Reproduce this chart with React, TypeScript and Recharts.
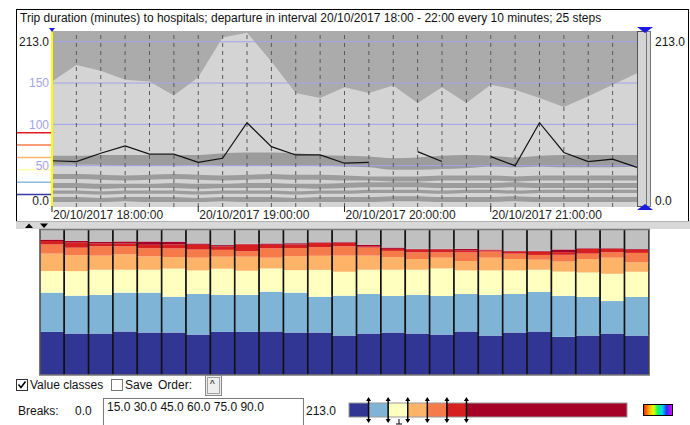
import React from 'react';
import {
  Area,
  Bar,
  BarChart,
  CartesianGrid,
  ComposedChart,
  Line,
  ReferenceLine,
  XAxis,
  YAxis,
} from 'recharts';

const FONT = '"Liberation Sans", Arial, sans-serif';

// departure steps, 20/10/2017 18:00 - 22:00 every 10 minutes
const steps = [
  '18:00', '18:10', '18:20', '18:30', '18:40', '18:50', '19:00', '19:10', '19:20',
  '19:30', '19:40', '19:50', '20:00', '20:10', '20:20', '20:30', '20:40', '20:50',
  '21:00', '21:10', '21:20', '21:30', '21:40', '21:50', '22:00',
];
const hourTicks = [0, 6, 12, 18];
const hourLabels = ['20/10/2017 18:00:00', '20/10/2017 19:00:00', '20/10/2017 20:00:00', '20/10/2017 21:00:00'];
const yTicks = [0, 50, 100, 150, 213];
const gridValues = [50, 100, 150, 200];

// trip duration per step (minutes)
const maxTrip = [152, 172, 165, 154, 152, 135, 157, 205, 211, 176, 138, 132, 145, 138, 147, 126, 145, 126, 148, 142, 132, 121, 134, 148, 162];
const medianTrip = [56, 55, 65, 74, 64, 64, 54, 59, 102, 73, 63, 63, 53, 54, null, 67, 55, null, 61, 50, 102, 66, 55, 58, 48];

// darker percentile bands (low / high)
const bandAHi = [62, 62, 63, 63, 63, 63, 63, 65, 66, 66, 65, 63, 62, 61, 59, 60, 62, 63, 62, 60, 62, 63, 63, 63, 63];
const bandALo = [51, 51, 51, 50, 50, 50, 51, 50, 50, 50, 50, 50, 49, 48, 45, 45, 46, 47, 49, 48, 49, 48, 48, 48, 49];
const bandBHi = [40, 40, 39, 38, 39, 40, 39, 38, 39, 40, 39, 39, 38, 37, 37, 37, 38, 38, 38, 37, 38, 38, 38, 38, 38];
const bandBLo = [34, 34, 33, 32, 33, 34, 33, 32, 33, 34, 33, 33, 32, 32, 31, 31, 32, 32, 32, 31, 32, 32, 32, 32, 32];
const bandCHi = [29, 29, 28, 28, 28, 29, 28, 28, 29, 29, 28, 28, 29, 30, 30, 30, 29, 29, 29, 30, 29, 29, 29, 29, 29];
const bandCLo = [23, 23, 22, 23, 23, 23, 22, 23, 23, 23, 23, 22, 23, 24, 24, 24, 23, 23, 23, 24, 23, 23, 23, 23, 23];
const bandDHi = [20, 20, 19, 20, 20, 20, 19, 20, 20, 20, 19, 20, 20, 21, 21, 21, 20, 21, 21, 20, 21, 21, 21, 21, 21];
const bandDLo = [16, 16, 15, 16, 16, 16, 15, 16, 16, 16, 15, 16, 16, 17, 17, 17, 16, 17, 17, 16, 17, 17, 17, 17, 17];
const bandEHi = [12, 12, 11, 12, 12, 12, 11, 12, 12, 12, 11, 12, 12, 12, 13, 13, 12, 12, 12, 13, 12, 12, 12, 12, 12];
const bandELo = [6, 6, 6, 7, 6, 6, 6, 7, 6, 6, 6, 6, 6, 6, 7, 7, 6, 6, 6, 7, 6, 6, 6, 6, 6];

// value classes
const breaks = [0, 15, 30, 45, 60, 75, 90, 213];
const classColors = ['#313695', '#7fb4d6', '#ffffbf', '#fdb468', '#f67b4b', '#d62020', '#a50026'];
const breakLineColors = ['#3a3aa8', '#8cbcd9', '#ffffb0', '#fdb468', '#f67b4b', '#e41a1c'];

// share of destinations per class and step (%)
const share0to15 = [29.7, 28.6, 28.6, 30.0, 29.3, 29.3, 27.9, 29.7, 29.7, 30.0, 29.3, 29.3, 27.2, 28.6, 29.3, 28.6, 27.9, 30.0, 27.2, 29.3, 30.0, 26.3, 27.2, 28.6, 27.2];
const share15to30 = [27.1, 26.1, 26.6, 26.8, 27.5, 24.7, 28.0, 25.5, 25.5, 27.5, 27.5, 24.7, 27.5, 27.3, 25.2, 26.6, 26.6, 25.9, 28.0, 26.6, 27.3, 28.3, 26.6, 22.4, 26.6];
const share30to45 = [14.9, 16.9, 17.4, 15.8, 15.8, 19.4, 16.2, 18.1, 16.7, 16.0, 15.5, 18.5, 16.5, 16.7, 18.1, 17.4, 19.0, 16.2, 16.9, 16.2, 15.3, 16.7, 16.9, 18.8, 17.4];
const share45to60 = [12.0, 11.1, 9.7, 10.6, 9.2, 7.9, 8.8, 8.3, 9.7, 7.4, 9.7, 9.7, 11.1, 9.7, 8.8, 7.4, 7.4, 6.5, 8.8, 7.9, 6.9, 6.9, 9.3, 11.1, 6.5];
const share60to75 = [6.3, 5.1, 6.5, 5.6, 5.6, 6.0, 5.6, 4.7, 3.8, 6.5, 5.6, 6.0, 6.5, 5.6, 4.2, 4.6, 3.7, 6.0, 4.2, 3.7, 3.3, 4.7, 3.7, 3.7, 6.5];
const share75to90 = [2.4, 3.5, 1.9, 1.9, 2.4, 2.8, 3.3, 2.3, 4.6, 2.4, 2.4, 2.8, 2.3, 0.9, 1.4, 1.9, 1.9, 1.4, 0.9, 1.4, 2.3, 1.8, 3.2, 2.3, 2.2];
const share90plus = [1.0, 1.2, 1.2, 1.4, 2.3, 1.9, 0.9, 1.0, 0.5, 0.9, 0.9, 0.5, 0.5, 1.0, 0.9, 0.5, 0.5, 1.0, 0.5, 0.5, 0.5, 1.9, 0.5, 0.5, 0.5];
const shareMissing = [6.6, 7.5, 8.2, 8.0, 8.0, 8.0, 9.4, 10.3, 9.4, 9.4, 9.4, 8.5, 8.5, 10.3, 12.2, 13.1, 13.1, 13.1, 13.5, 14.4, 14.4, 13.5, 12.6, 12.6, 13.5];

const topRows = steps.map((s, i) => ({
  i,
  s,
  top: [maxTrip[i], 213],
  a: [bandALo[i], bandAHi[i]],
  b: [bandBLo[i], bandBHi[i]],
  c: [bandCLo[i], bandCHi[i]],
  d: [bandDLo[i], bandDHi[i]],
  e: [bandELo[i], bandEHi[i]],
  median: medianTrip[i],
}));

const barRows = steps.map((s, i) => ({
  s,
  c0: share0to15[i],
  c1: share15to30[i],
  c2: share30to45[i],
  c3: share45to60[i],
  c4: share60to75[i],
  c5: share75to90[i],
  c6: share90plus[i],
  na: shareMissing[i],
}));
const barKeys = ['c0', 'c1', 'c2', 'c3', 'c4', 'c5', 'c6'];

const YTick = (p: any) => {
  const v = p.payload.value;
  const edge = v === 0 || v === 213;
  const dy = v === 213 ? 11 : v === 0 ? -6 : 0;
  return (
    <text x={p.x} y={p.y + dy} dy="0.35em" textAnchor="end" fontSize={12} fontFamily={FONT}
      fill={edge ? '#222' : '#a3a3e8'}>
      {edge ? v.toFixed(1) : v}
    </text>
  );
};

const XTick = (p: any) => {
  const k = hourTicks.indexOf(p.payload.value);
  if (k < 0) return null;
  return (
    <g>
      <line x1={p.x} x2={p.x} y1={p.y - 1} y2={p.y + 5} stroke="#222" />
      <text x={p.x + 1} y={p.y + 8} dy="0.35em" fontSize={12} fontFamily={FONT} fill="#222">
        {hourLabels[k]}
      </text>
    </g>
  );
};

const BarCell = (p: any) => {
  const { x, y, width, height, fill } = p;
  if (!height || height <= 0) return null;
  return (
    <g>
      <rect x={x} y={y} width={width} height={height} fill={fill} />
      <line x1={x} x2={x} y1={y} y2={y + height} stroke="#111" strokeWidth={1.3} />
      <line x1={x + width} x2={x + width} y1={y} y2={y + height} stroke="#111" strokeWidth={1.3} />
    </g>
  );
};

const bandColor = '#9c9c9c';

function TopChart() {
  return (
    <ComposedChart width={690} height={225} data={topRows}
      margin={{ top: 31, right: 53, bottom: 0, left: 16 }}>
      <CartesianGrid horizontal={false} vertical={false} fill="#d4d4d4" fillOpacity={1} />
      <XAxis dataKey="i" type="number" domain={[0, 24]} ticks={hourTicks} interval={0}
        height={18} axisLine={false} tickLine={false} tickSize={0} tickMargin={0} tick={<XTick />} />
      <YAxis type="number" domain={[0, 213]} ticks={yTicks} interval={0} width={36}
        axisLine={{ stroke: '#ffff00', strokeWidth: 2 }} tickLine={false} tickSize={0} tickMargin={3}
        tick={<YTick />} />
      <Area dataKey="top" type="linear" stroke="none" fill="#ababab" fillOpacity={1} isAnimationActive={false} />
      <Area dataKey="a" type="monotone" stroke="none" fill={bandColor} fillOpacity={1} isAnimationActive={false} />
      <Area dataKey="b" type="monotone" stroke="none" fill={bandColor} fillOpacity={1} isAnimationActive={false} />
      <Area dataKey="c" type="monotone" stroke="none" fill={bandColor} fillOpacity={1} isAnimationActive={false} />
      <Area dataKey="d" type="monotone" stroke="none" fill={bandColor} fillOpacity={1} isAnimationActive={false} />
      <Area dataKey="e" type="monotone" stroke="none" fill={bandColor} fillOpacity={1} isAnimationActive={false} />
      {gridValues.map((v) => (
        <ReferenceLine key={'g' + v} y={v} stroke="#a3a3ee" strokeWidth={1} />
      ))}
      {steps.slice(1, -1).map((s, k) => (
        <ReferenceLine key={s} x={k + 1} stroke="#5a5a5a" strokeDasharray="4 4" />
      ))}
      {breaks.slice(1, -1).map((b, k) => (
        <ReferenceLine key={'b' + b} y={b} stroke={breakLineColors[k]}
          shape={(p: any) => (
            <line x1={16} x2={51} y1={p.y1} y2={p.y1} stroke={breakLineColors[k]} strokeWidth={1.5} />
          )} />
      ))}
      <Line dataKey="median" type="linear" stroke="#111" strokeWidth={1.2} dot={false}
        connectNulls={false} isAnimationActive={false} />
    </ComposedChart>
  );
}

function ClassBars() {
  return (
    <BarChart width={612} height={148} data={barRows} barCategoryGap={0}
      margin={{ top: 1, right: 2, bottom: 2, left: 1 }}>
      <XAxis dataKey="s" hide />
      <YAxis type="number" domain={[0, 100]} hide allowDataOverflow />
      {barKeys.map((k, j) => (
        <Bar key={k} dataKey={k} stackId="s" fill={classColors[j]} shape={<BarCell />} isAnimationActive={false} />
      ))}
      <Bar dataKey="na" stackId="s" fill="#c0c0c0" shape={<BarCell />} isAnimationActive={false} />
    </BarChart>
  );
}

const lx = (v: number) => 349 + (v / 213) * 278;

function Legend() {
  return (
    <svg width={690} height={425} style={{ position: 'absolute', left: 0, top: 0, pointerEvents: 'none' }}>
      <defs>
        <linearGradient id="rainbow" x1="0" x2="1" y1="0" y2="0">
          <stop offset="0" stopColor="#ff2000" />
          <stop offset="0.2" stopColor="#ffb000" />
          <stop offset="0.35" stopColor="#e0ff00" />
          <stop offset="0.5" stopColor="#00ff60" />
          <stop offset="0.65" stopColor="#00d0ff" />
          <stop offset="0.8" stopColor="#2030ff" />
          <stop offset="1" stopColor="#ff00ff" />
        </linearGradient>
      </defs>
      {classColors.map((c, k) => (
        <rect key={c} x={lx(breaks[k])} y={403} width={lx(breaks[k + 1]) - lx(breaks[k])} height={14} fill={c} />
      ))}
      <rect x={349} y={403} width={278} height={14} fill="none" stroke="#999" />
      {breaks.slice(1, -1).map((b) => (
        <g key={b}>
          <line x1={lx(b)} x2={lx(b)} y1={399} y2={421} stroke="#000" strokeWidth={1.5} />
          <path d={`M${lx(b) - 2.5},${401} L${lx(b)},${397} L${lx(b) + 2.5},${401} Z`} fill="#000" />
          <path d={`M${lx(b) - 2.5},${419} L${lx(b)},${423} L${lx(b) + 2.5},${419} Z`} fill="#000" />
        </g>
      ))}
      <line x1={399} x2={399} y1={419} y2={424} stroke="#000" />
      <line x1={396} x2={402} y1={424} y2={424} stroke="#000" />
      <rect x={643.5} y={404.5} width={29} height={11} fill="url(#rainbow)" stroke="#000" />

      {/* frames and sliders of the top panel */}
      <rect x={16.5} y={9.5} width={672} height={212} fill="none" stroke="#000" />
      <rect x={16} y={221} width={674} height={8} fill="#d8d8d8" />
      <line x1={16} x2={690} y1={221.5} y2={221.5} stroke="#b0b0b0" />
      <path d="M25,228 L29,223.5 L33,228 Z" fill="#000" />
      <path d="M40,223.5 L48,223.5 L44,228 Z" fill="#000" />
      <path d="M49,28 L55,28 L52,32 Z" fill="#1a1ae0" />
      <rect x={637.5} y={31.5} width={9} height={175} fill="#d4d4d4" stroke="#555" />
      <rect x={646.5} y={31.5} width={4} height={175} fill="#d4d4d4" stroke="#777" />
      <path d="M637,27 L653,27 L645,33 Z" fill="#1a1ae0" />
      <path d="M645,204 L653,210 L637,210 Z" fill="#1a1ae0" />
      <rect x={39.75} y={229.5} width={609.5} height={145.5} fill="none" stroke="#777" strokeWidth={1.5} />

      {/* checkboxes */}
      <rect x={16.5} y={379.5} width={11} height={11} fill="#fff" stroke="#333" />
      <path d="M18.5,384.5 L21,387.5 L25.5,381.5" fill="none" stroke="#000" strokeWidth={1.6} />
      <rect x={111.5} y={379.5} width={11} height={11} fill="#fff" stroke="#777" />
      <rect x={205.5} y={375.5} width={16} height={20} fill="#eee" stroke="#888" />
      <rect x={207.5} y={377.5} width={12} height={16} fill="none" stroke="#555" strokeDasharray="1 1" />
    </svg>
  );
}

const txt = (left: number, top: number, s: string, extra: any = {}) => (
  <div style={{ position: 'absolute', left, top, fontSize: 12, lineHeight: '14px', whiteSpace: 'nowrap', color: '#111', ...extra }}>
    {s}
  </div>
);

export default function App() {
  return (
    <div style={{ position: 'absolute', left: 0, top: 0, width: 690, height: 425, background: '#fff', fontFamily: FONT, overflow: 'hidden' }}>
      <div style={{ position: 'absolute', left: 0, top: 0 }}>
        <TopChart />
      </div>
      <div style={{ position: 'absolute', left: 39, top: 229 }}>
        <ClassBars />
      </div>
      <div style={{ position: 'absolute', left: 103, top: 398, width: 199, height: 40, border: '1px solid #7a7a7a', background: '#fff' }} />
      <Legend />
      {txt(20, 11, 'Trip duration (minutes) to hospitals; departure in interval 20/10/2017 18:00 - 22:00 every 10 minutes; 25 steps')}
      {txt(655, 35, '213.0')}
      {txt(655, 194, '0.0')}
      {txt(30, 378, 'Value classes')}
      {txt(125, 378, 'Save')}
      {txt(158, 378, 'Order:')}
      {txt(210, 378, '^', { fontSize: 10 })}
      {txt(18, 404, 'Breaks:')}
      {txt(75, 404, '0.0')}
      {txt(107, 400, '15.0 30.0 45.0 60.0 75.0 90.0')}
      {txt(306, 404, '213.0')}
    </div>
  );
}
